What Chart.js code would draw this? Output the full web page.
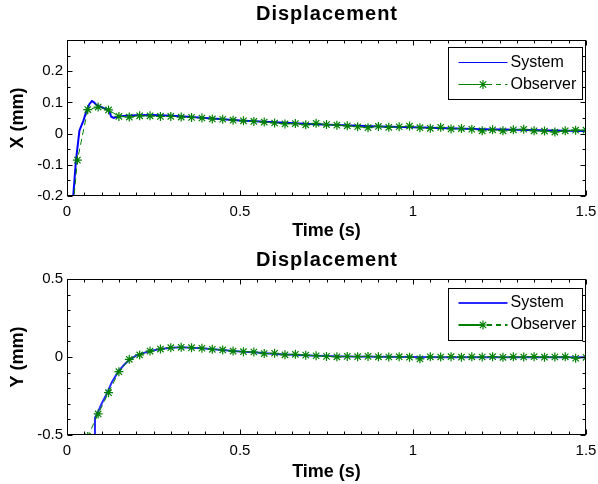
<!DOCTYPE html>
<html lang="en">
<head>
<meta charset="UTF-8">
<title>Displacement</title>
<script src="https://cdn.jsdelivr.net/npm/chart.js"></script>
<style>
    body { margin: 0; background: #fff; }
    .panel { width: 598px; height: 242px; }
</style>
</head>
<body>

<div class="panel"><canvas id="chartX" width="598" height="242"></canvas></div>
<div class="panel"><canvas id="chartY" width="598" height="242"></canvas></div>

<script>
// --- data ---
const xTickLabels = [0, 0.5, 1, 1.5];
const yTickLabelsX = [-0.2, -0.1, 0, 0.1, 0.2];
const yTickLabelsY = [-0.5, 0, 0.5];

// X displacement, system (continuous curve)
const sysXTime = [0, 0.01, 0.018, 0.026, 0.036, 0.047, 0.057, 0.065, 0.072, 0.078, 0.085, 0.095, 0.105, 0.115, 0.122, 0.128, 0.135, 0.145, 0.17, 0.2, 0.25, 0.3, 0.35, 0.4, 0.45, 0.5, 0.6, 0.7, 0.8, 0.9, 1.0, 1.1, 1.2, 1.3, 1.4, 1.5];
const sysX = [-0.4, -0.3, -0.2, -0.085, 0.01, 0.04, 0.075, 0.095, 0.104, 0.1, 0.092, 0.087, 0.082, 0.077, 0.072, 0.054, 0.05, 0.054, 0.057, 0.059, 0.06, 0.057, 0.054, 0.05, 0.046, 0.042, 0.036, 0.031, 0.027, 0.023, 0.02, 0.017, 0.014, 0.012, 0.01, 0.008];

// observer samples (one star each)
const obsTime = [0, 0.03, 0.06, 0.09, 0.12, 0.15, 0.18, 0.21, 0.24, 0.27, 0.3, 0.33, 0.36, 0.39, 0.42, 0.45, 0.48, 0.51, 0.54, 0.57, 0.6, 0.63, 0.66, 0.69, 0.72, 0.75, 0.78, 0.81, 0.84, 0.87, 0.9, 0.93, 0.96, 0.99, 1.02, 1.05, 1.08, 1.11, 1.14, 1.17, 1.2, 1.23, 1.26, 1.29, 1.32, 1.35, 1.38, 1.41, 1.44, 1.47, 1.5];
const obsX = [-0.45, -0.085, 0.077, 0.085, 0.076, 0.055, 0.053, 0.057, 0.057, 0.055, 0.055, 0.053, 0.052, 0.05, 0.047, 0.046, 0.043, 0.041, 0.039, 0.037, 0.034, 0.031, 0.032, 0.028, 0.033, 0.029, 0.027, 0.025, 0.022, 0.019, 0.023, 0.02, 0.022, 0.024, 0.019, 0.017, 0.02, 0.015, 0.016, 0.014, 0.009, 0.012, 0.009, 0.012, 0.014, 0.009, 0.008, 0.005, 0.009, 0.011, 0.011];

// Y displacement
const sysYTime = [0, 0.079, 0.081, 0.09, 0.1, 0.115, 0.13, 0.148, 0.165, 0.18, 0.2, 0.22, 0.24, 0.27, 0.3, 0.33, 0.36, 0.39, 0.42, 0.45, 0.48, 0.51, 0.54, 0.6, 0.7, 0.8, 0.9, 1.0, 1.1, 1.2, 1.3, 1.4, 1.5];
const sysY = [-2.0, -1.5, -0.39, -0.35, -0.3, -0.235, -0.16, -0.094, -0.05, -0.02, 0.01, 0.025, 0.038, 0.051, 0.06, 0.063, 0.06, 0.056, 0.05, 0.045, 0.039, 0.034, 0.031, 0.02, 0.01, 0.004, 0.002, 0.0, -0.001, -0.001, -0.002, -0.002, -0.002];
const obsY = [-1.6, -0.95, -0.51, -0.365, -0.229, -0.094, -0.015, 0.013, 0.038, 0.051, 0.06, 0.062, 0.06, 0.056, 0.049, 0.045, 0.038, 0.034, 0.032, 0.022, 0.024, 0.014, 0.017, 0.012, 0.008, 0.004, 0.001, 0.004, 0.002, 0.004, 0.001, 0.0, 0.002, -0.001, -0.012, 0.001, 0.0, 0.002, -0.001, 0.001, 0.0, 0.002, -0.002, 0.001, 0.0, 0.002, -0.001, 0.0, 0.001, -0.008, -0.002];

const FONT = '"Liberation Sans", Arial, sans-serif';

function pairs(ts, vs) {
    return ts.map((t, i) => ({ x: t, y: vs[i] }));
}

function labelFrom(list) {
    return function (v) {
        const hit = list.find(l => Math.abs(l - v) < 1e-9);
        return hit === undefined ? '' : String(hit);
    };
}

// matlab style box, inward ticks, spaced title and legend
const matlabBox = {
    id: 'matlabBox',
    afterDraw(chart, args, opts) {
        const { ctx, chartArea: a, scales } = chart;
        const L = Math.round(a.left) + 0.5, R = Math.round(a.right) - 0.5;
        const T = Math.round(a.top) + 0.5, B = Math.round(a.bottom) - 0.5;
        ctx.save();
        ctx.strokeStyle = '#000';
        ctx.lineWidth = 1;
        ctx.beginPath();
        scales.x.ticks.forEach(t => {
            const px = Math.round(scales.x.getPixelForValue(t.value)) + 0.5;
            const len = t.label ? 5 : 3;
            ctx.moveTo(px, B); ctx.lineTo(px, B - len);
            ctx.moveTo(px, T); ctx.lineTo(px, T + len);
        });
        scales.y.ticks.forEach(t => {
            const py = Math.round(scales.y.getPixelForValue(t.value)) + 0.5;
            const len = t.label ? 5 : 3;
            ctx.moveTo(L, py); ctx.lineTo(L + len, py);
            ctx.moveTo(R, py); ctx.lineTo(R - len, py);
        });
        ctx.stroke();
        ctx.strokeRect(L, T, R - L, B - T);

        // title (slightly letter spaced like the original)
        ctx.fillStyle = '#000';
        ctx.font = 'bold 20px ' + FONT;
        ctx.textAlign = 'center';
        ctx.textBaseline = 'middle';
        if ('letterSpacing' in ctx) ctx.letterSpacing = '1px';
        ctx.fillText(opts.title, (a.left + a.right) / 2 + 0.5, opts.titleY);
        if ('letterSpacing' in ctx) ctx.letterSpacing = '0px';

        // legend
        const lx = Math.round(a.right) - 137.5, ly = Math.round(a.top) + opts.top + 0.5;
        ctx.fillStyle = '#fff';
        ctx.fillRect(lx, ly, 134, 52);
        ctx.strokeRect(lx, ly, 134, 52);
        ctx.font = '16px ' + FONT;
        ctx.textAlign = 'left';
        chart.data.datasets.forEach((ds, i) => {
            const y = ly + opts.rows[i];
            const x0 = lx + 10, x1 = lx + 59, xm = (x0 + x1) / 2;
            ctx.strokeStyle = ds.borderColor;
            ctx.lineWidth = opts.legendWidth;
            ctx.beginPath();
            if (ds.borderDash) {
                ctx.moveTo(x0, y); ctx.lineTo(xm, y);
                ctx.stroke();
                ctx.setLineDash([5, 4]);
                ctx.beginPath();
                ctx.moveTo(xm + 4, y); ctx.lineTo(x1, y);
                ctx.stroke();
                ctx.setLineDash([]);
                // star marker
                const r = 4.5, d = r * 0.707;
                ctx.lineWidth = 1.2;
                ctx.beginPath();
                ctx.moveTo(xm - r, y); ctx.lineTo(xm + r, y);
                ctx.moveTo(xm, y - r); ctx.lineTo(xm, y + r);
                ctx.moveTo(xm - d, y - d); ctx.lineTo(xm + d, y + d);
                ctx.moveTo(xm - d, y + d); ctx.lineTo(xm + d, y - d);
                ctx.stroke();
            } else {
                ctx.moveTo(x0, y); ctx.lineTo(x1, y);
                ctx.stroke();
            }
            ctx.fillStyle = '#000';
            ctx.fillText(ds.label, lx + 62, Math.round(y));
        });
        ctx.restore();
    }
};

function makePanel(id, p) {
    return new Chart(document.getElementById(id), {
        type: 'line',
        data: {
            datasets: [{
                label: 'System',
                data: pairs(p.sysTime, p.sys),
                borderColor: p.sysColor,
                borderWidth: 2,
                pointRadius: 0,
                tension: 0,
                order: 2
            }, {
                label: 'Observer',
                data: pairs(obsTime, p.obs),
                borderColor: '#008000',
                borderWidth: 1,
                borderDash: [6, 4],
                pointStyle: 'star',
                pointRadius: 4.5,
                pointBorderWidth: 1.2,
                pointBorderColor: '#008000',
                pointBackgroundColor: 'rgba(0,0,0,0)',
                tension: 0,
                order: 1
            }]
        },
        options: {
            responsive: false,
            animation: false,
            events: [],
            layout: { padding: { top: p.plotTop, left: 0, right: 0, bottom: 0 } },
            plugins: {
                legend: { display: false },
                tooltip: { enabled: false },
                title: { display: false },
                matlabBox: {
                    title: 'Displacement', titleY: p.titleY,
                    top: p.legendTop, rows: p.legendRows, legendWidth: p.legendWidth
                }
            },
            scales: {
                x: {
                    type: 'linear',
                    min: 0, max: 1.5,
                    grid: { display: false, drawTicks: false },
                    border: { display: false },
                    ticks: {
                        stepSize: 0.05, autoSkip: false, maxRotation: 0, padding: 7,
                        color: '#000', font: { family: FONT, size: 15 },
                        callback: labelFrom(xTickLabels)
                    },
                    title: {
                        display: true, text: 'Time (s)', color: '#000',
                        font: { family: FONT, size: 18, weight: 'bold' },
                        padding: { top: 0, bottom: p.xTitleBottom }
                    },
                    afterFit: s => {
                        s.height = p.xAxisHeight;
                        s.paddingLeft = 0;
                        s.paddingRight = 12;
                    }
                },
                y: {
                    min: p.yMin, max: p.yMax,
                    grid: { display: false, drawTicks: false },
                    border: { display: false },
                    ticks: {
                        stepSize: p.yStep, autoSkip: false, padding: 4,
                        color: '#000', font: { family: FONT, size: 15 },
                        callback: labelFrom(p.yLabels)
                    },
                    title: {
                        display: true, text: p.yTitle, color: '#000',
                        font: { family: FONT, size: 18, weight: 'bold' },
                        padding: { top: 7, bottom: 0 }
                    },
                    afterFit: s => {
                        s.width = 67;
                        s.paddingTop = 0;
                        s.paddingBottom = 0;
                    }
                }
            }
        },
        plugins: [matlabBox]
    });
}

makePanel('chartX', {
    sysTime: sysXTime, sys: sysX, obs: obsX, sysColor: '#0000ff',
    yMin: -0.2, yMax: 0.3, yStep: 0.05, yLabels: yTickLabelsX, yTitle: 'X (mm)',
    plotTop: 40, titleY: 14.5, xTitleBottom: 0.4, xAxisHeight: 46,
    legendTop: 7, legendRows: [15, 37], legendWidth: 1
});

makePanel('chartY', {
    sysTime: sysYTime, sys: sysY, obs: obsY, sysColor: '#2a2aff',
    yMin: -0.5, yMax: 0.5, yStep: 0.1, yLabels: yTickLabelsY, yTitle: 'Y (mm)',
    plotTop: 37, titleY: 18, xTitleBottom: 1.4, xAxisHeight: 49,
    legendTop: 9, legendRows: [14.5, 36.5], legendWidth: 2
});
</script>

</body>
</html>
